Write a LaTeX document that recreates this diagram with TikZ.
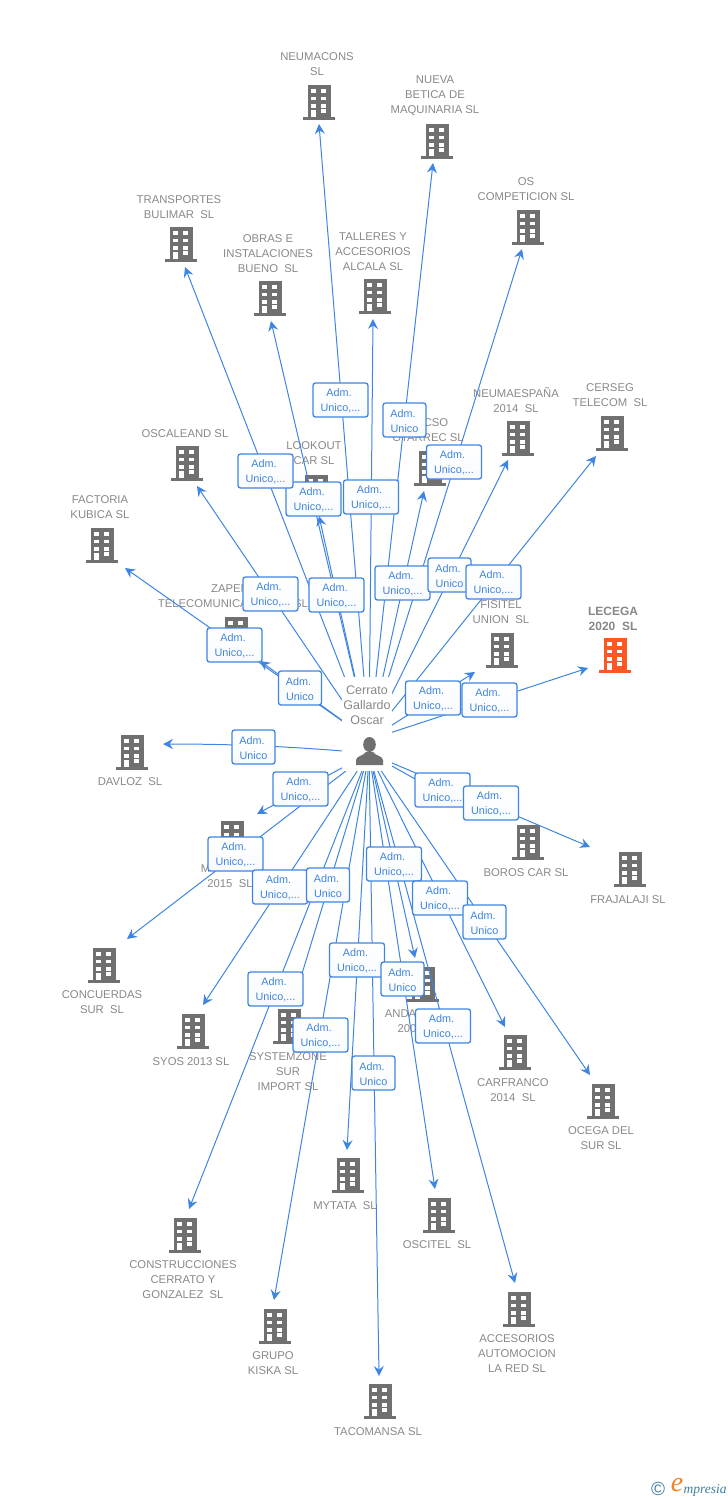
\documentclass[tikz,border=0pt]{standalone}
\usepackage{fontspec}
\setmainfont{Liberation Sans}
\newfontfamily\markfont{Liberation Serif}
\usetikzlibrary{arrows.meta}

\definecolor{iconGray}{HTML}{707070}
\definecolor{titleGray}{HTML}{888888}
\definecolor{linkBlue}{HTML}{3E85E3}
\definecolor{boxText}{HTML}{3F84DE}
\definecolor{hotOrange}{HTML}{FF5722}
\definecolor{markBlue}{HTML}{3F7F9B}
\definecolor{markOrange}{HTML}{F58220}

\tikzset{
	link/.style={linkBlue, line width=1pt, -{Stealth[length=10pt,width=10pt,inset=3.5pt]}},
	title/.style={titleGray, align=center, inner sep=0pt, yshift=-1pt, font=\fontsize{11.3}{15}\selectfont},
	admbox/.style={draw=linkBlue, line width=1.3pt, rounded corners=2.5pt, top color=white, bottom color=linkBlue!4,
		text=boxText, align=center, inner sep=0pt, minimum height=34pt, font=\fontsize{10.8}{15}\selectfont},
	admlong/.style={admbox, minimum width=55pt},
	admshort/.style={admbox, minimum width=43pt},
	pics/building/.default=iconGray,
	pics/building/.style={code={
		\fill[#1] (-11.5,-17) rectangle (11.5,15);
		\fill[#1] (-16,15) rectangle (16,18);
		\fill[white] (-8,-13) rectangle (-3,-9.5);
		\fill[white] (2,-13) rectangle (7,-9.5);
		\fill[white] (-8,-5.5) rectangle (-3,-2);
		\fill[white] (2,-5.5) rectangle (7,-2);
		\fill[white] (-8,2) rectangle (-3,5.5);
		\fill[white] (2,2) rectangle (7,5.5);
		\fill[white] (-8,8) rectangle (-3,15);
		\fill[white] (2,7) rectangle (7,10.5);
	}},
	pics/person/.style={code={
		\fill[iconGray] (0,-6.5) ellipse (6.3 and 7.5);
		\fill[iconGray] (-13.5,14) -- (-13.5,9) .. controls (-13.5,5) and (-6,5) .. (-3.5,1) -- (3.5,1) .. controls (6,5) and (13.5,5) .. (13.5,9) -- (13.5,14) -- cycle;
	}}
}

\newcommand{\company}[5]{
	\pic (#1icon) at (#2) {building};
	\node[title] (#1text) at (#3) {#4};
	\coordinate (#1) at (#5);
}
\newcommand{\admlongtext}{\rule{0pt}{10pt}Adm.\kern3pt\\Unico,...}
\newcommand{\admshorttext}{\rule{0pt}{10pt}Adm.\kern3pt\\Unico}

\begin{document}
\begin{tikzpicture}[x=1pt,y=-1pt]
	\useasboundingbox (0,0) rectangle (728,1500);

	% companies above the owner
	\company{neumacons}{319,102}{317,63.5}{NEUMACONS\\SL}{319,124}
	\company{nueva}{437,141}{435,95}{NUEVA\\BETICA DE\\MAQUINARIA SL}{433,163}
	\company{os}{528,227}{526,188.5}{OS\\COMPETICION SL}{522,249}
	\company{transportes}{181,244}{179,206.5}{TRANSPORTES\\BULIMAR~~SL}{185,267}
	\company{obras}{270,298}{268,253}{OBRAS E\\INSTALACIONES\\BUENO~~SL}{271,321}
	\company{talleres}{375,296}{373,251}{TALLERES Y\\ACCESORIOS\\ALCALA SL}{373,319}
	\company{neumaespana}{518,438}{516,399.5}{NEUMAESPAÑA\\2014~~SL}{508,460}
	\company{cerseg}{612,433}{610,394.5}{CERSEG\\TELECOM~~SL}{596,456}
	\company{cso}{430,468}{428,429.5}{\kern16pt CSO\\OTARREC SL}{424,491}
	\company{oscaleand}{187,463}{185,433}{OSCALEAND SL}{197,486}
	\company{lookout}{316,492}{314,452.5}{LOOKOUT\\CAR SL}{319,516}
	\company{factoria}{102,545}{100,506.5}{FACTORIA\\KUBICA SL}{125,568}
	\company{zapen}{236,634}{233,595.5}{ZAPEN\kern6pt\\TELECOMUNICACIONES SL}{260,661}
	\company{fisitel}{502,650}{501,611.5}{FISITEL\\UNION~~SL}{475,672}

	\pic (lecegaicon) at (615,655) {building=hotOrange};
	\node[title, font=\bfseries\fontsize{12}{15}\selectfont] (lecegatext) at (613,617.5) {LECEGA\\2020~~SL};
	\coordinate (lecega) at (588,668);

	% companies below the owner
	\company{davloz}{132,752}{130,781}{DAVLOZ~~SL}{163,744}
	\company{boros}{528,842}{526,872}{BOROS CAR SL}{485,818}
	\company{frajalaji}{630,869}{628,899}{FRAJALAJI SL}{590,847}
	\company{mquince}{232,838}{230,875.5}{M\kern49pt\\2015~~SL}{257,814}
	\company{concuerdas}{104,965}{102,1001.5}{CONCUERDAS\\SUR~~SL}{127,939}
	\company{syos}{193,1031}{191,1061}{SYOS 2013 SL}{203,1005}
	\company{systemzone}{289,1026}{288,1071}{SYSTEMZONE\\SUR\\IMPORT SL}{294,1000}
	\company{anda}{423,984}{421,1020.5}{ANDA\kern41pt\\200\kern28pt}{415,958}
	\company{carfranco}{515,1052}{513,1089.5}{CARFRANCO\\2014~~SL}{505,1027}
	\company{ocega}{603,1101}{601,1137.5}{OCEGA DEL\\SUR SL}{590,1075}
	\company{construcciones}{185,1235}{183,1279}{CONSTRUCCIONES\\CERRATO Y\\GONZALEZ~~SL}{189,1209}
	\company{grupo}{275,1326}{273,1362.5}{GRUPO\\KISKA SL}{274,1300}
	\company{tacomansa}{380,1401}{378,1431}{TACOMANSA SL}{379,1376}
	\company{mytata}{348,1175}{345,1205}{MYTATA~~SL}{347,1150}
	\company{oscitel}{439,1215}{437,1244}{OSCITEL~~SL}{435,1189}
	\company{accesorios}{519,1309}{517,1353}{ACCESORIOS\\AUTOMOCION\\LA RED SL}{515,1283}

	\node[inner sep=0pt, minimum width=1pt, minimum height=13pt] (owner) at (369,746.5) {};

	% links
	\draw[link] (owner.north) -- (neumacons);
	\draw[link] (owner.north) -- (nueva);
	\draw[link] (owner.north) -- (os);
	\draw[link] (owner.north) -- (transportes);
	\draw[link] (owner.north) -- (obras);
	\draw[link] (owner.north) -- (talleres);
	\draw[link] (owner.north) -- (neumaespana);
	\draw[link] (owner.north) -- (cerseg);
	\draw[link] (owner.north) -- (cso);
	\draw[link] (owner.north) -- (oscaleand);
	\draw[link] (owner.north) -- (lookout);
	\draw[link] (owner.north) -- (factoria);
	\draw[link] (owner.north) -- (zapen);
	\draw[link] (owner.north) -- (fisitel);
	\draw[link] (owner.north) -- (lecega);
	\draw[link] (owner.south) .. controls (310,748) and (250,744) .. (davloz);
	\draw[link] (owner.south) -- (boros);
	\draw[link] (owner.south) -- (frajalaji);
	\draw[link] (owner.south) -- (mquince);
	\draw[link] (owner.south) -- (concuerdas);
	\draw[link] (owner.south) -- (syos);
	\draw[link] (owner.south) -- (systemzone);
	\draw[link] (owner.south) -- (anda);
	\draw[link] (owner.south) -- (carfranco);
	\draw[link] (owner.south) -- (ocega);
	\draw[link] (owner.south) -- (construcciones);
	\draw[link] (owner.south) -- (grupo);
	\draw[link] (owner.south) -- (tacomansa);
	\draw[link] (owner.south) -- (mytata);
	\draw[link] (owner.south) -- (oscitel);
	\draw[link] (owner.south) -- (accesorios);

	% owner sits on a blank patch, the links stop at its edge
	\node[fill=white, inner sep=0pt, minimum width=50pt, minimum height=94pt] (ownerback) at (367,724) {};
	\node[title, font=\fontsize{12.5}{15}\selectfont] (ownertext) at (367,704) {Cerrato\\Gallardo\\Oscar};
	\pic (ownericon) at (369.5,751) {person};

	% role boxes
	\node[admlong] (neumaconsadm) at (340.5,400) {\admlongtext};
	\node[admshort] (nuevaadm) at (404.5,420) {\admshorttext};
	\node[admlong] (obrasadm) at (313.5,499) {\admlongtext};
	\node[admlong] (transportesadm) at (265.5,471) {\admlongtext};
	\node[admlong] (talleresadm) at (371,497) {\admlongtext};
	\node[admlong] (osadm) at (454,462) {\admlongtext};
	\node[admlong] (oscaleandadm) at (270.5,594) {\admlongtext};
	\node[admlong] (lookoutadm) at (336.5,595) {\admlongtext};
	\node[admlong] (csoadm) at (402.5,583) {\admlongtext};
	\node[admshort] (neumaespanaadm) at (449.5,575) {\admshorttext};
	\node[admlong] (cersegadm) at (493.5,582) {\admlongtext};
	\node[admlong] (factoriaadm) at (234.5,645) {\admlongtext};
	\node[admshort] (zapenadm) at (300,688) {\admshorttext};
	\node[admlong] (fisiteladm) at (433,698) {\admlongtext};
	\node[admlong] (lecegaadm) at (489.5,700) {\admlongtext};
	\node[admshort] (davlozadm) at (253.5,747) {\admshorttext};
	\node[admlong] (mquinceadm) at (300.5,789) {\admlongtext};
	\node[admlong] (borosadm) at (442.5,790) {\admlongtext};
	\node[admlong] (frajalajiadm) at (491,803) {\admlongtext};
	\node[admlong] (concuerdasadm) at (235.5,854) {\admlongtext};
	\node[admlong] (syosadm) at (280,887) {\admlongtext};
	\node[admshort] (systemzoneadm) at (328,885) {\admshorttext};
	\node[admlong] (andaadm) at (394,864) {\admlongtext};
	\node[admlong] (carfrancoadm) at (440,898) {\admlongtext};
	\node[admshort] (ocegaadm) at (484.5,922) {\admshorttext};
	\node[admlong] (mytataadm) at (357,960) {\admlongtext};
	\node[admshort] (osciteladm) at (402.5,979) {\admshorttext};
	\node[admlong] (construccionesadm) at (275.5,989) {\admlongtext};
	\node[admlong] (accesoriosadm) at (443,1026) {\admlongtext};
	\node[admlong] (grupoadm) at (320.5,1035) {\admlongtext};
	\node[admshort] (tacomansaadm) at (373.5,1073) {\admshorttext};

	% mark in the corner
	\node[inner sep=0pt, text=markBlue, font=\fontsize{19}{19}\selectfont] (markc) at (658,1489) {©};
	\node[inner sep=0pt, text=markOrange, font=\markfont\itshape\fontsize{28}{28}\selectfont] (marke) at (677,1485) {e};
	\node[inner sep=0pt, text=markBlue, font=\markfont\itshape\fontsize{13.5}{14}\selectfont] (markp) at (705,1490) {mpresia};
\end{tikzpicture}
\end{document}
